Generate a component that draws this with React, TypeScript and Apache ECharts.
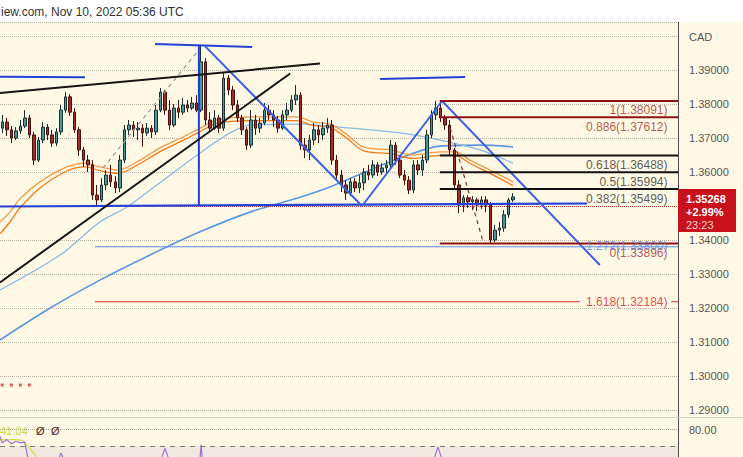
import React, { useEffect, useRef } from 'react';
import * as echarts from 'echarts';

// ---------- DATA ----------
// bar slots on the time axis (114 candles + empty space on the right)
const slotCount = 150;
const slots = Array.from({ length: slotCount }, (_, i) => String(i));

// candles: [open, close, low, high]
const candles: number[][] = [
  [1.3729, 1.3747, 1.3715, 1.3768], [1.3747, 1.3724, 1.3706, 1.3759], [1.3724, 1.3700, 1.3685, 1.3735],
  [1.3700, 1.3721, 1.3694, 1.3732], [1.3721, 1.3735, 1.3712, 1.3753], [1.3735, 1.3759, 1.3729, 1.3782],
  [1.3759, 1.3709, 1.3700, 1.3768], [1.3709, 1.3635, 1.3621, 1.3718], [1.3635, 1.3694, 1.3629, 1.3703],
  [1.3694, 1.3732, 1.3685, 1.3747], [1.3732, 1.3709, 1.3694, 1.3741], [1.3709, 1.3685, 1.3674, 1.3724],
  [1.3685, 1.3718, 1.3676, 1.3729], [1.3718, 1.3782, 1.3709, 1.3797], [1.3782, 1.3821, 1.3774, 1.3835],
  [1.3821, 1.3776, 1.3765, 1.3829], [1.3776, 1.3724, 1.3715, 1.3788], [1.3724, 1.3665, 1.3647, 1.3732],
  [1.3665, 1.3635, 1.3615, 1.3674], [1.3635, 1.3621, 1.3600, 1.3650], [1.3621, 1.3532, 1.3518, 1.3635],
  [1.3532, 1.3518, 1.3503, 1.3562], [1.3518, 1.3562, 1.3512, 1.3582], [1.3562, 1.3591, 1.3547, 1.3606],
  [1.3591, 1.3571, 1.3556, 1.3621], [1.3571, 1.3553, 1.3538, 1.3588], [1.3553, 1.3635, 1.3541, 1.3650],
  [1.3635, 1.3724, 1.3626, 1.3738], [1.3724, 1.3738, 1.3709, 1.3753], [1.3738, 1.3724, 1.3703, 1.3750],
  [1.3724, 1.3729, 1.3694, 1.3747], [1.3729, 1.3715, 1.3674, 1.3741], [1.3715, 1.3729, 1.3706, 1.3744],
  [1.3729, 1.3718, 1.3700, 1.3738], [1.3718, 1.3782, 1.3709, 1.3797], [1.3782, 1.3835, 1.3776, 1.3847],
  [1.3835, 1.3782, 1.3768, 1.3841], [1.3782, 1.3738, 1.3724, 1.3812], [1.3738, 1.3788, 1.3732, 1.3800],
  [1.3788, 1.3776, 1.3759, 1.3812], [1.3776, 1.3797, 1.3768, 1.3818], [1.3797, 1.3788, 1.3776, 1.3812],
  [1.3788, 1.3803, 1.3782, 1.3821], [1.3803, 1.3782, 1.3776, 1.3826], [1.3782, 1.3924, 1.3776, 1.3974],
  [1.3924, 1.3753, 1.3738, 1.3935], [1.3753, 1.3729, 1.3718, 1.3776], [1.3729, 1.3759, 1.3724, 1.3782],
  [1.3759, 1.3729, 1.3715, 1.3768], [1.3729, 1.3876, 1.3721, 1.3894], [1.3876, 1.3841, 1.3826, 1.3885],
  [1.3841, 1.3797, 1.3782, 1.3853], [1.3797, 1.3759, 1.3747, 1.3812], [1.3759, 1.3724, 1.3709, 1.3768],
  [1.3724, 1.3679, 1.3665, 1.3732], [1.3679, 1.3753, 1.3671, 1.3782], [1.3753, 1.3729, 1.3709, 1.3768],
  [1.3729, 1.3744, 1.3715, 1.3759], [1.3744, 1.3782, 1.3738, 1.3803], [1.3782, 1.3768, 1.3753, 1.3797],
  [1.3768, 1.3753, 1.3732, 1.3782], [1.3753, 1.3729, 1.3715, 1.3765], [1.3729, 1.3768, 1.3724, 1.3782],
  [1.3768, 1.3782, 1.3753, 1.3803], [1.3782, 1.3812, 1.3776, 1.3826], [1.3812, 1.3826, 1.3797, 1.3856],
  [1.3826, 1.3679, 1.3665, 1.3835], [1.3679, 1.3665, 1.3641, 1.3700], [1.3665, 1.3694, 1.3635, 1.3709],
  [1.3694, 1.3724, 1.3679, 1.3744], [1.3724, 1.3709, 1.3685, 1.3738], [1.3709, 1.3729, 1.3694, 1.3747],
  [1.3729, 1.3738, 1.3715, 1.3759], [1.3738, 1.3635, 1.3621, 1.3753], [1.3635, 1.3591, 1.3576, 1.3650],
  [1.3591, 1.3562, 1.3541, 1.3606], [1.3562, 1.3538, 1.3518, 1.3576], [1.3538, 1.3571, 1.3529, 1.3582],
  [1.3571, 1.3553, 1.3541, 1.3582], [1.3553, 1.3568, 1.3538, 1.3591], [1.3568, 1.3600, 1.3547, 1.3612],
  [1.3600, 1.3591, 1.3576, 1.3621], [1.3591, 1.3621, 1.3582, 1.3635], [1.3621, 1.3600, 1.3588, 1.3629],
  [1.3600, 1.3612, 1.3591, 1.3626], [1.3612, 1.3621, 1.3597, 1.3635], [1.3621, 1.3679, 1.3612, 1.3694],
  [1.3679, 1.3635, 1.3621, 1.3688], [1.3635, 1.3591, 1.3582, 1.3650], [1.3591, 1.3576, 1.3562, 1.3606],
  [1.3576, 1.3547, 1.3535, 1.3588], [1.3547, 1.3621, 1.3538, 1.3635], [1.3621, 1.3606, 1.3591, 1.3635],
  [1.3606, 1.3635, 1.3588, 1.3650], [1.3635, 1.3709, 1.3626, 1.3724], [1.3709, 1.3768, 1.3700, 1.3782],
  [1.3768, 1.3788, 1.3753, 1.38091], [1.3788, 1.3759, 1.3747, 1.3806], [1.3759, 1.3738, 1.3724, 1.3768],
  [1.3738, 1.3665, 1.3650, 1.3753], [1.3665, 1.3562, 1.3547, 1.3671], [1.3562, 1.3503, 1.3479, 1.3576],
  [1.3503, 1.3524, 1.3482, 1.3532], [1.3524, 1.3512, 1.3494, 1.3532], [1.3512, 1.3518, 1.3488, 1.3529],
  [1.3518, 1.3503, 1.3485, 1.3524], [1.3503, 1.3518, 1.3491, 1.3529], [1.3518, 1.3503, 1.3482, 1.3529],
  [1.3503, 1.3400, 1.33896, 1.3512], [1.3400, 1.3429, 1.3394, 1.3444], [1.3429, 1.3435, 1.3412, 1.3453],
  [1.3435, 1.3474, 1.3424, 1.3488], [1.3474, 1.3518, 1.3465, 1.3524], [1.3518, 1.35268, 1.3512, 1.3538],
];
const lastPrice = 1.35268;
const lastChange = '+2.99%';
const countdown = '23:23';

// moving averages: [bar index, price]
const emaFast = [[-0.5, 1.3453], [1.7, 1.3482], [3.9, 1.3521], [8.35, 1.3571], [14.3, 1.3615], [18.3, 1.3626], [21.6, 1.3615], [25.6, 1.3606], [30.5, 1.3635], [34.9, 1.3671], [40, 1.3703], [43.75, 1.3729], [47.5, 1.3753], [54.8, 1.3762], [65.2, 1.3762], [68.75, 1.3747], [72.5, 1.3741], [75.8, 1.3715], [79.8, 1.3674], [85.8, 1.3665], [90.9, 1.365], [96.85, 1.3659], [100.2, 1.3659], [103.5, 1.3635], [107.9, 1.3606], [113, 1.3571]];
const emaSlow = [[-0.5, 1.3418], [1.7, 1.3453], [3.9, 1.3494], [8.35, 1.3553], [14.3, 1.3603], [18.3, 1.3615], [21.6, 1.3604], [25.6, 1.3596], [30.5, 1.3625], [34.9, 1.366], [40, 1.3693], [43.75, 1.3719], [47.5, 1.3743], [54.8, 1.3751], [65.2, 1.3751], [68.75, 1.3737], [72.5, 1.3731], [75.8, 1.3704], [79.8, 1.3663], [85.8, 1.3654], [90.9, 1.364], [96.85, 1.3649], [100.2, 1.3649], [103.5, 1.3625], [107.9, 1.3596], [113, 1.356]];
const maLong = [[-0.5, 1.3106], [10.6, 1.32], [21.6, 1.3282], [32.7, 1.3356], [43.75, 1.3424], [54.8, 1.3482], [65.9, 1.3526], [72.5, 1.3556], [81.4, 1.3606], [88, 1.3641], [96.85, 1.3676], [105.7, 1.3679], [113, 1.3674]];
const maMid = [[-0.5, 1.3253], [12.8, 1.3356], [21.6, 1.3453], [27.6, 1.3497], [32.7, 1.3547], [43.75, 1.3656], [50.4, 1.3715], [54.8, 1.3738], [65.9, 1.3741], [74.7, 1.3732], [88, 1.3715], [96.85, 1.3694], [105.7, 1.3665], [113, 1.3626]];

// hand drawings: [bar index, price]
const blueLevelLeft = [[-0.5, 1.388], [18.3, 1.3879]];
const blueLevelTop = [[33.8, 1.39765], [55.3, 1.39676]];
const blueLevelRight = [[83.6, 1.38735], [102.4, 1.38794]];
const blueNeckline = [[-0.5, 1.34985], [129.4, 1.35074]];
const blueVertical = [[43.5, 1.3974], [43.5, 1.3503]];
const blueZigzag = [[44.8, 1.3971], [79.6, 1.35], [97.3, 1.38088], [132.2, 1.33265]];
const blackUpper = [[-0.5, 1.38324], [70.3, 1.39191]];
const blackLower = [[-0.5, 1.3275], [63.7, 1.38897]];
const greyDashed = [[22.3, 1.36118], [43.1, 1.39529]];
const redDashed = [[99.1, 1.37294], [106.4, 1.33941]];

// fibonacci retracement
const fibStart = 96.8;
const fibRatios = ['1', '0.886', '0.618', '0.5', '0.382', '0'];
const fibPrices = [1.38091, 1.37612, 1.36488, 1.35994, 1.35499, 1.33896];
// extension levels
const extRatios = ['1.618', '1.272'];
const extPrices = [1.32184, 1.338];
const extStart = 20.5;
const ext1618End = 127.8;

// SAR-like dots
const sarDots = [[0, 1.29735], [2, 1.29735], [4, 1.29735], [6, 1.29735]];

// oscillator pane (visible parts only)
const oscSegments = [
  [[-0.5, 76], [0, 72], [1, 74], [2, 71.5], [3, 73], [4, 72], [5, 72.5], [6, 58]],
  [[12, 59], [13, 65.9], [14, 60]],
  [[35, 61], [36, 68.8], [37, 61]],
  [[43.6, 57], [44, 71], [44.4, 57]],
  [[95.5, 62], [96.4, 69.6], [97.3, 62]],
];
const oscSignal = [[-0.5, 74], [3, 74], [4.5, 73.5], [6, 69], [7.5, 64], [8.5, 60]];
const oscValueText = '41.04';
const oscUpper = 80;
const oscLevel = 70;

const headerText = 'iew.com, Nov 10, 2022 05:36 UTC';
const currency = 'CAD';

// ---------- CHART ----------
const FONT = '"Liberation Sans", Arial, sans-serif';
const CREAM = '#FFF8E4';

function drawing(data: number[][], color: string, width: number, type: any = 'solid', z = 6) {
  return {
    type: 'line', xAxisIndex: 1, yAxisIndex: 0, data, symbol: 'none', silent: true,
    lineStyle: { color, width, type }, z,
  };
}

export default function App() {
  const ref = useRef<HTMLDivElement>(null);
  useEffect(() => {
    const chart = echarts.init(ref.current!, undefined, { renderer: 'svg' });
    const fibColors = ['#8E1414', '#8E1414', '#111111', '#111111', '#111111', '#8E1414'];
    const fibLabelColors = ['#A8302C', '#A8302C', '#333333', '#333333', '#333333', '#A8302C'];

    const series: any[] = [
      { type: 'line', xAxisIndex: 1, yAxisIndex: 0, data: maLong, symbol: 'none', smooth: 0.3, silent: true, lineStyle: { color: '#5B97E3', width: 1.6 }, z: 2 },
      { type: 'line', xAxisIndex: 1, yAxisIndex: 0, data: maMid, symbol: 'none', smooth: 0.3, silent: true, lineStyle: { color: '#86BDEA', width: 1.3 }, z: 2 },
      { type: 'line', xAxisIndex: 1, yAxisIndex: 0, data: emaFast, symbol: 'none', smooth: 0.3, silent: true, lineStyle: { color: '#F39A45', width: 1.3 }, z: 2 },
      { type: 'line', xAxisIndex: 1, yAxisIndex: 0, data: emaSlow, symbol: 'none', smooth: 0.3, silent: true, lineStyle: { color: '#F07A1A', width: 1.3 }, z: 2 },
      {
        type: 'candlestick', xAxisIndex: 0, yAxisIndex: 0, data: candles, barWidth: 3, z: 3,
        itemStyle: { color: '#4A9898', color0: '#A02E28', borderColor: '#1A3030', borderColor0: '#4A100E', borderWidth: 1 },
        markLine: {
          silent: true, symbol: ['none', 'none'], label: { show: false },
          lineStyle: { color: '#B03030', type: 'dotted', width: 1 },
          data: [{ yAxis: lastPrice }],
        },
      },
      drawing(blueLevelLeft, '#2340D8', 2),
      drawing(blueLevelTop, '#2340D8', 2),
      drawing(blueLevelRight, '#2340D8', 2),
      drawing(blueNeckline, '#2340D8', 2.2),
      drawing(blueVertical, '#2340D8', 2),
      drawing(blueZigzag, '#3A62E6', 2),
      drawing(blackUpper, '#151515', 2),
      drawing(blackLower, '#151515', 2),
      drawing(greyDashed, '#9A9A9A', 1.2, [4, 4]),
      drawing(redDashed, '#8E2A2A', 1.2, [4, 4]),
      drawing([[extStart, extPrices[0]], [ext1618End, extPrices[0]]], '#E03030', 1),
      drawing([[148, extPrices[0]], [149.5, extPrices[0]]], '#E03030', 1),
      drawing([[extStart, extPrices[1]], [149.5, extPrices[1]]], '#5C8AE6', 1),
    ];
    fibPrices.forEach((p, k) => {
      series.push(drawing([[fibStart, p], [149.5, p]], fibColors[k], 2, 'solid', 7));
    });
    series.push({
      type: 'scatter', xAxisIndex: 1, yAxisIndex: 0, symbolSize: 1, clip: false, silent: true, z: 8,
      itemStyle: { color: 'rgba(0,0,0,0)' },
      label: { show: true, position: 'left', distance: 10, fontSize: 12, fontFamily: FONT },
      data: [
        ...fibPrices.map((p, k) => ({
          value: [149.5, p],
          label: { formatter: `${fibRatios[k]}(${p.toFixed(5)})`, color: fibLabelColors[k], offset: [0, 9.5] },
        })),
        { value: [149.5, extPrices[0]], label: { formatter: `${extRatios[0]}(${extPrices[0].toFixed(5)})`, color: '#D8262B', offset: [0, 0] } },
        { value: [149.5, extPrices[1]], label: { formatter: `${extRatios[1]}(${extPrices[1].toFixed(5)})`, color: '#5C86E8', offset: [0, -1] } },
      ],
    });
    series.push({
      type: 'scatter', xAxisIndex: 1, yAxisIndex: 0, symbol: 'rect', symbolSize: 3, silent: true, z: 6,
      itemStyle: { color: '#E8313A' }, data: sarDots,
    });
    // oscillator
    series.push({
      type: 'line', xAxisIndex: 2, yAxisIndex: 1, data: oscSignal, symbol: 'none', silent: true,
      lineStyle: { color: '#D2DE4E', width: 1.2 }, z: 4,
      markArea: { silent: true, itemStyle: { color: '#F0E9DF' }, data: [[{ yAxis: 63.5 }, { yAxis: oscLevel }]] },
      markLine: {
        silent: true, symbol: ['none', 'none'], label: { show: false },
        data: [
          { yAxis: oscUpper, lineStyle: { color: '#A9A293', type: 'dotted', width: 1 } },
          { yAxis: oscLevel, lineStyle: { color: '#7E786C', type: [5, 5], width: 1 } },
        ],
      },
    });
    oscSegments.forEach((seg) => {
      series.push({
        type: 'line', xAxisIndex: 2, yAxisIndex: 1, data: seg, symbol: 'none', silent: true,
        lineStyle: { color: '#A071D6', width: 1.2 }, z: 5,
      });
    });

    chart.setOption({
      animation: false,
      backgroundColor: CREAM,
      grid: [
        { left: 0, top: 22, width: 678, height: 395 },
        { left: 0, top: 418, width: 678, height: 39 },
      ],
      xAxis: [
        { type: 'category', data: slots, gridIndex: 0, show: false },
        { type: 'value', gridIndex: 0, min: -0.5, max: slotCount - 0.5, show: false },
        { type: 'value', gridIndex: 1, min: -0.5, max: slotCount - 0.5, show: false },
      ],
      yAxis: [
        {
          type: 'value', gridIndex: 0, position: 'right', min: 1.28794, max: 1.40412, splitNumber: 12, scale: true,
          axisLine: { show: true, onZero: false, lineStyle: { color: '#4D4D4D' } },
          axisTick: { show: false },
          splitLine: { show: true, lineStyle: { color: '#B9B2A2', type: 'dotted', width: 1 } },
          axisLabel: {
            margin: 11, color: '#555555', fontSize: 11, fontFamily: FONT,
            formatter: (v: number) => {
              const c = Math.round(v * 100);
              if (Math.abs(v * 100 - c) > 1e-6) return '';
              if (c === 140 || c === 135) return '';
              return v.toFixed(5);
            },
          },
        },
        {
          type: 'value', gridIndex: 1, position: 'right', min: 63.5, max: 87,
          axisLine: { show: true, onZero: false, lineStyle: { color: '#4D4D4D' } },
          axisTick: { show: false }, splitLine: { show: false },
          axisLabel: {
            margin: 11, color: '#555555', fontSize: 11, fontFamily: FONT,
            formatter: (v: number) => (Math.abs(v - oscUpper) < 1e-6 ? oscUpper.toFixed(2) : ''),
          },
        },
      ],
      series,
      graphic: [
        { type: 'rect', shape: { x: 0, y: 0, width: 743, height: 22 }, style: { fill: '#FFFFFF' }, z: 100, silent: true },
        { type: 'text', x: 1, y: 12, z: 101, silent: true, style: { text: headerText, fill: '#333333', font: `12px ${FONT}`, verticalAlign: 'middle' } },
        { type: 'line', shape: { x1: 0, y1: 417.5, x2: 743, y2: 417.5 }, style: { stroke: '#D6D0C3', lineWidth: 1 }, z: 100, silent: true },
        { type: 'text', x: 689, y: 37, z: 101, silent: true, style: { text: currency, fill: '#555555', font: `11px ${FONT}`, verticalAlign: 'middle' } },
        { type: 'rect', shape: { x: 678, y: 189, width: 58, height: 43 }, style: { fill: '#C8111A' }, z: 100, silent: true },
        { type: 'text', x: 686, y: 199, z: 101, silent: true, style: { text: lastPrice.toFixed(5), fill: '#FFFFFF', font: `bold 11px ${FONT}`, verticalAlign: 'middle' } },
        { type: 'text', x: 686, y: 212, z: 101, silent: true, style: { text: lastChange, fill: '#FFFFFF', font: `bold 11px ${FONT}`, verticalAlign: 'middle' } },
        { type: 'text', x: 686, y: 225, z: 101, silent: true, style: { text: countdown, fill: '#F3D0D0', font: `11px ${FONT}`, verticalAlign: 'middle' } },
        { type: 'text', x: 0, y: 431, z: 101, silent: true, style: { text: oscValueText, fill: '#C9D940', font: `11px ${FONT}`, verticalAlign: 'middle' } },
        { type: 'text', x: 36, y: 431, z: 101, silent: true, style: { text: 'Ø', fill: '#5A2424', font: `11px ${FONT}`, verticalAlign: 'middle' } },
        { type: 'text', x: 51, y: 431, z: 101, silent: true, style: { text: 'Ø', fill: '#5A2424', font: `11px ${FONT}`, verticalAlign: 'middle' } },
      ],
    });
    return () => chart.dispose();
  }, []);
  return <div ref={ref} style={{ position: 'fixed', left: 0, top: 0, width: 743, height: 457 }} />;
}
